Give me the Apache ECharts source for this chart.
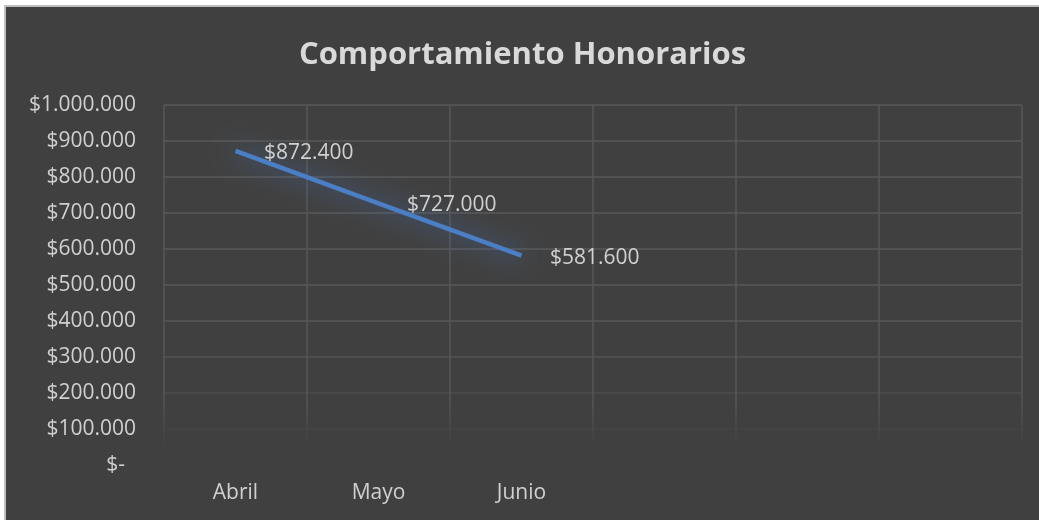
<!DOCTYPE html>
<html>
<head>
<meta charset="utf-8">
<script src="https://cdn.jsdelivr.net/npm/echarts@6/dist/echarts.min.js"></script>
<style>
  html, body { margin: 0; padding: 0; background: #ffffff; width: 1039px; height: 520px; overflow: hidden; }
  #frame { position: absolute; left: 4px; top: 5px; width: 1035px; height: 515px; background: #bfbfbf; }
  #chart { position: absolute; left: 6px; top: 7px; width: 1033px; height: 513px; background: #404040; }
</style>
</head>
<body>
<div id="frame"></div>
<div id="chart"></div>
<script>
const titleText = 'Comportamiento Honorarios';
const categories = ['Abril', 'Mayo', 'Junio', '', '', ''];
const honorarios = [872400, 727000, 581600];
const yTicks = { min: 0, max: 1000000, interval: 100000 };

function fmtMoney(v) {
  if (v === 0) return '$-  ';
  return '$' + String(Math.round(v)).replace(/\B(?=(\d{3})+(?!\d))/g, '.');
}

const chart = echarts.init(document.getElementById('chart'), null, { renderer: 'canvas' });

const gridTop = 98, gridH = 360;
const vGrad = new echarts.graphic.LinearGradient(0, gridTop, 0, gridTop + gridH, [
  { offset: 0, color: '#575757' },
  { offset: 0.82, color: '#565656' },
  { offset: 0.95, color: '#404040' },
  { offset: 1, color: '#404040' }
], true);

chart.setOption({
  backgroundColor: '#404040',
  animation: false,
  title: {
    text: titleText,
    left: 'center',
    top: 28,
    textStyle: { color: '#d9d9d9', fontFamily: 'Open Sans', fontWeight: 'bold', fontSize: 31 }
  },
  grid: { left: 158, top: gridTop, width: 858, height: gridH, containLabel: false },
  xAxis: {
    type: 'category',
    data: categories,
    boundaryGap: true,
    axisLine: { show: false },
    axisTick: { show: false },
    axisLabel: { color: '#d0d0d0', fontFamily: 'Open Sans', fontSize: 21, margin: 18, interval: 0 },
    splitLine: { show: true, interval: 0, lineStyle: { color: vGrad, width: 1.5 } }
  },
  yAxis: {
    type: 'value',
    min: yTicks.min,
    max: yTicks.max,
    interval: yTicks.interval,
    axisLine: { show: false },
    axisTick: { show: false },
    axisLabel: { color: '#d0d0d0', fontFamily: 'Open Sans', fontSize: 21, margin: 28, formatter: fmtMoney },
    splitLine: {
      show: true,
      lineStyle: {
        width: 1.5,
        color: ['#404040', '#444444', '#4c4c4c', '#535353', '#575757', '#585858', '#585858', '#585858', '#585858', '#585858', '#585858']
      }
    }
  },
  series: [{
    type: 'line',
    data: honorarios,
    symbol: 'circle',
    symbolSize: 1,
    showSymbol: true,
    itemStyle: { color: 'rgba(0,0,0,0)' },
    lineStyle: {
      color: '#4a7fc6',
      width: 4.5,
      shadowBlur: 24,
      shadowColor: 'rgba(70,125,210,0.85)'
    },
    label: {
      show: true,
      position: 'right',
      distance: 28,
      offset: [0, 2],
      color: '#d0d0d0',
      fontFamily: 'Open Sans',
      fontSize: 21,
      formatter: p => fmtMoney(p.value)
    }
  }]
});
</script>
</body>
</html>
